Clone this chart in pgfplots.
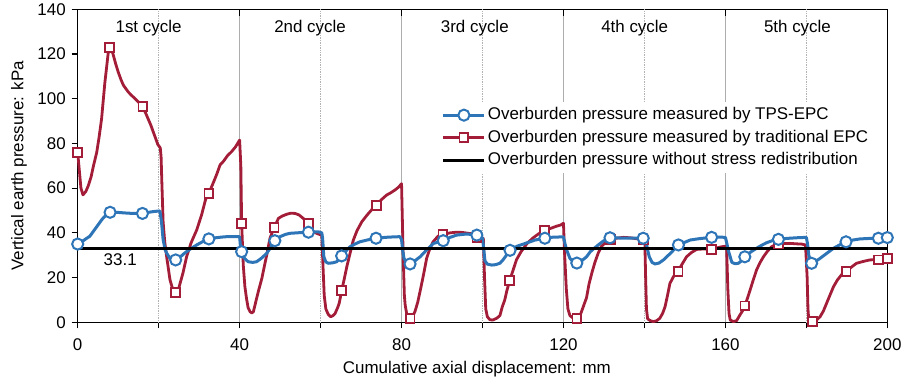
\documentclass[border=0pt]{standalone}
\usepackage{fontspec}
\setmainfont{Liberation Sans}
\usepackage{pgfplots}
\usepackage{pgfplotstable}
\pgfplotsset{compat=1.18}

\definecolor{tpsblue}{RGB}{46,117,184}
\definecolor{epcred}{RGB}{164,29,56}

% Traditional EPC record (mm, kPa)
\pgfplotstableread{
x y
0 76
0.4 68
0.8 60
1.3 57
2.0 58.5
2.6 61
3.3 65
3.9 70
4.7 76
5.3 83
5.9 91
6.3 99
6.7 107
7.2 115
7.6 121.5
7.9 123
8.4 122
8.8 119.5
9.4 115.5
10.0 112
10.7 108.5
11.3 106
11.9 104.5
12.5 103
13.3 101.5
14.2 100
15.0 98.5
15.6 97.5
16.1 96.4
16.8 93.5
17.4 91
18.1 88
18.7 85
19.3 82
19.8 79.5
20.4 78
20.6 74
20.8 62
21.1 45
21.5 36
22.0 29
22.8 19
23.6 14
24.2 13
25.0 15.5
26.0 22
26.9 29.3
28.0 35.5
29.4 41.3
30.6 48
31.6 55
32.4 57.7
33.4 62
34.3 66
35.2 70.5
36.0 72
37.0 74.5
38.0 76.3
39.0 78.5
40.0 81.5
40.3 70
40.5 44.3
40.9 25.6
41.3 16
41.7 10.7
42.1 6.5
42.6 4.7
43.0 4.2
43.4 4.7
44.2 10.7
44.8 15
45.5 19.7
46.1 25
46.7 30.1
47.5 37.6
48.5 42.3
49.6 46.5
50.5 47.5
51.6 48.3
52.6 48.8
53.7 48.7
54.7 48
55.7 46.5
57.0 44.3
58.2 40.5
59.4 39.5
60.3 39
60.6 25
60.9 12
61.3 6
61.9 3.5
62.5 2.5
63.1 3
63.6 4
64.2 6.5
64.6 8.5
65.2 14.1
65.8 19
66.5 25
67.3 31
68.1 36.8
69.0 41
70.2 45
71.5 48
72.7 50.5
73.8 52.3
75.0 54.8
76.3 56.9
77.4 58
78.4 59.2
79.3 60.5
80.0 62
80.4 30
80.7 12
80.9 7.7
81.4 2.5
82.1 1.8
82.7 2.5
83.3 4.7
84.0 9
84.6 14
85.4 21
86.2 28.6
87.0 33
87.8 36
89.0 38.5
90.2 39.4
91.0 39.6
92.0 40
93.5 40.3
95.0 40.2
96.5 39.8
97.7 39.5
98.6 38
99.5 37.8
100.2 37.6
100.5 20
100.8 6
101.2 2.5
101.8 1.2
102.5 1
103.5 1.8
104.3 3
104.9 7
105.5 10
106.0 14
106.7 18.7
107.5 23
108.4 28
109.5 31.5
110.9 35
112.3 37.5
113.8 39.5
115.3 41
116.8 42
118.3 43
119.3 43.5
120.0 44.3
120.3 30
120.7 15
121.1 6
121.6 3
122.3 2
123.3 1.8
124.2 3.5
124.9 7
125.7 11
126.3 17
127.0 22
127.8 27
128.6 31
129.4 34
130.5 36
131.6 37
133.0 37.6
134.8 38
136.5 37.8
138.0 37.4
139.0 37.1
139.8 36.8
140.1 36.5
140.3 20
140.5 6
140.8 1.5
141.5 0.7
142.2 0.3
143.0 0.7
143.8 1.8
144.5 4
145.1 7
145.7 12
146.3 17.4
147.2 20.5
148.3 22.7
149.3 26
150.4 29.3
151.6 31.2
152.9 32.6
154.5 32.8
156.6 32.6
158.0 33.3
159.1 33.8
160.0 34
160.3 33.8
160.6 15
160.9 4
161.2 1
162.0 0.3
162.8 0.8
163.6 3.3
164.2 5
164.8 7.3
165.5 11
166.1 14.4
166.9 19
167.7 23.4
168.5 26.5
169.4 29.3
170.4 31.8
171.4 33.8
172.3 34.6
173.1 35
174.5 35.2
176.0 35.3
177.5 35.1
178.8 35
179.8 34.6
180.2 20
180.4 6
180.6 1
181.5 0.3
182.5 1
183.4 2.5
184.2 5
185.0 8.5
185.8 12
186.7 15.9
187.7 19
188.8 21.5
189.8 22.6
191.0 24.5
192.4 26.4
194.0 27.2
195.7 27.9
197.0 28
197.8 27.9
199.0 28.3
200.0 28.6
}\epcdata

% Traditional EPC, marked samples
\pgfplotstableread{
x y
0 75.9
7.9 122.8
16.1 96.4
24.2 13.3
32.4 57.7
40.5 44.3
48.5 42.3
57.0 44.3
65.2 14.1
73.8 52.3
82.1 1.8
90.2 39.4
98.6 38
106.7 18.7
115.3 41
123.3 1.8
131.6 37
139.8 36.8
148.3 22.7
156.6 32.6
164.8 7.3
173.1 35
181.5 0.3
189.8 22.6
197.8 27.9
200.0 28.6
}\epcmarks

% TPS-EPC record (mm, kPa)
\pgfplotstableread{
x y
0 35
1.0 36
2.0 37.3
3.0 38.5
4.0 41
5.0 43.5
6.0 46
7.0 48
8.0 49.2
9.5 49.2
11 49
12.5 48.8
14 48.7
16 48.7
17.5 49.2
19 49.6
20.3 49.8
20.7 45
21.1 37
21.6 32.5
22.0 30.9
22.8 28.6
23.6 27.8
24.2 27.9
25.2 29
26.0 30.3
26.9 31.6
28.0 33
29.4 34.6
30.8 36
32.4 37.3
34.0 37.8
35.5 38.1
36.8 38.3
38.5 38.3
40.0 38.3
40.2 34
40.5 31.6
41.0 29
42.1 27.1
43.2 26.8
44.2 27.1
45.5 28.8
46.7 30.9
47.7 33.5
48.7 36.5
50.0 38.3
51.3 39.3
52.4 39.8
54.9 40.1
57.0 40.3
59.4 40.5
60.3 40
60.5 37.6
60.8 29.3
61.3 27
61.9 26.4
63.0 26.6
64.0 27.1
65.2 29.7
66.2 31.8
67.3 33.8
68.5 35
69.7 36
71.5 36.8
73.7 37.6
76.0 38
78.0 38.2
79.6 38.3
80.0 37
80.3 32
80.6 28.6
81.2 26.8
82.1 26.1
83.0 27
84.0 28.5
84.6 29.3
86.0 32
87.9 35.3
90.3 36.5
92.0 38
93.6 39
96.1 39.5
98.6 39
99.5 38.5
100.0 37.6
100.3 33
100.6 27.5
101.2 26
102.3 25.6
103.3 25.8
104.3 26.4
105.1 28
106.8 32.2
108.5 34
110.9 35.5
113.0 36.8
115.4 37.6
117.5 38.1
120.0 38.2
120.4 35
120.8 32.3
121.6 28.6
122.4 27
123.3 26.5
124.5 27.5
125.7 29.3
126.6 31.5
127.4 32.8
128.6 34.6
129.8 36.3
131.5 37.8
133.0 37.8
134.8 37.6
137.5 37.6
139.7 37.6
140.4 36.5
140.7 33
141.2 29.3
141.9 26.8
142.6 26.1
143.6 26.5
144.7 27.9
146.5 31
148.4 34.6
150.0 35.8
151.3 36.8
153.5 37.4
156.6 38
158.5 38.1
160.0 38
160.4 35
160.7 32.3
161.6 26.8
162.4 26.2
163.2 26.4
164.0 27.5
164.8 29.3
166.3 31.5
167.7 33.1
169.0 34.5
170.2 35.6
171.6 36.5
173.1 37.1
175.0 37.5
177.5 37.8
180.0 38
180.3 35
180.6 30
181.3 26.4
182.3 27.3
183.4 28.6
185.0 30.8
186.7 33.1
188.3 34.7
189.8 36
191.5 36.8
193.3 37.3
195.5 37.5
197.8 37.6
200.0 37.9
}\tpsdata

% TPS-EPC, marked samples
\pgfplotstableread{
x y
0 35
8.0 49.2
16.0 48.7
24.2 27.9
32.4 37.3
40.5 31.6
48.7 36.5
57.0 40.3
65.2 29.7
73.7 37.6
82.1 26.1
90.3 36.5
98.6 39
106.8 32.2
115.4 37.6
123.3 26.5
131.5 37.8
139.7 37.6
148.4 34.6
156.6 38
164.8 29.3
173.1 37.1
181.3 26.4
189.8 36
197.8 37.6
200.0 37.9
}\tpsmarks

\begin{document}
\begin{tikzpicture}
\useasboundingbox (-77.7bp,-62.7bp) rectangle (826.3bp,322.3bp);
\begin{axis}[
  at={(0,0)}, anchor=south west,
  scale only axis, width=809.6bp, height=313bp,
  xmin=0, xmax=200, ymin=0, ymax=140,
  xtick={0,20,...,200},
  xticklabels={0,,40,,80,,120,,160,,200},
  ytick={0,20,...,140},
  tick align=outside, xtick pos=bottom, ytick pos=left,
  major tick length=6bp,
  tick style={black, line width=1.1bp},
  axis line style={line width=1.1bp},
  font=\fontsize{17}{20}\selectfont,
  /pgf/number format/assume math mode=true,
  xticklabel style={yshift=-7bp},
  yticklabel style={xshift=-2.5bp},
  xlabel={Cumulative axial displacement: mm},
  ylabel={Vertical earth pressure: kPa},
  xlabel style={at={(axis description cs:0.493,-0.150)}, anchor=center},
  ylabel style={at={(axis description cs:-0.0725,0.5)}, anchor=center},
  clip=false,
  legend cell align=left,
  legend image code/.code={\draw[mark repeat=2,mark phase=2,#1] plot coordinates {(0bp,0bp) (20.5bp,0bp) (41bp,0bp)};},
  legend style={at={(axis description cs:0.441,0.704)}, anchor=north west,
    draw=none, fill=white, inner xsep=7bp, inner ysep=3bp,
    row sep=2.5bp,
    nodes={inner sep=2bp, text height=12.5bp, text depth=3.5bp},
    font=\fontsize{17}{20}\selectfont},
]
% cycle boundaries and half-cycle guides
\foreach \c in {40,80,120,160}{
  \edef\temp{\noexpand\draw[black!32, line width=1.2bp] (axis cs:\c,0) -- (axis cs:\c,140);
    \noexpand\draw[black, line width=1.1bp] (axis cs:\c,140) -- ++(0,-7bp);}
  \temp
}
\foreach \c in {20,60,100,140,180}{
  \edef\temp{\noexpand\draw[black!30, line width=0.7bp, densely dotted] (axis cs:\c,0) -- (axis cs:\c,140);}
  \temp
}

\addplot[forget plot, epcred, line width=2.8bp, line join=round] table[x=x,y=y] {\epcdata};
\addplot[forget plot, tpsblue, line width=3bp, line join=round] table[x=x,y=y] {\tpsdata};
\addplot[forget plot, black, line width=2.8bp] coordinates {(0,33.1) (200,33.1)};
\addplot[forget plot, only marks, epcred, mark=square*, mark size=4.4pt,
  mark options={fill=white, line width=1.8bp}] table[x=x,y=y] {\epcmarks};
\addplot[forget plot, only marks, tpsblue, mark=*, mark size=5.6pt,
  mark options={fill=white, line width=2bp}] table[x=x,y=y] {\tpsmarks};

\node at (axis cs:10.5,27.9) {33.1};
\node at (axis cs:17.5,131.5) {1st cycle};
\node at (axis cs:57.4,131.5) {2nd cycle};
\node at (axis cs:98.1,131.5) {3rd cycle};
\node at (axis cs:137.6,131.5) {4th cycle};
\node at (axis cs:177.8,131.5) {5th cycle};

\addlegendimage{tpsblue, line width=3bp, mark=*, mark size=5.6pt, mark options={fill=white, line width=2bp}}
\addlegendentry{Overburden pressure measured by TPS-EPC}
\addlegendimage{epcred, line width=2.8bp, mark=square*, mark size=4.4pt, mark options={fill=white, line width=1.8bp}}
\addlegendentry{Overburden pressure measured by traditional EPC}
\addlegendimage{black, line width=2.8bp}
\addlegendentry{Overburden pressure without stress redistribution}
\end{axis}
\end{tikzpicture}
\end{document}
